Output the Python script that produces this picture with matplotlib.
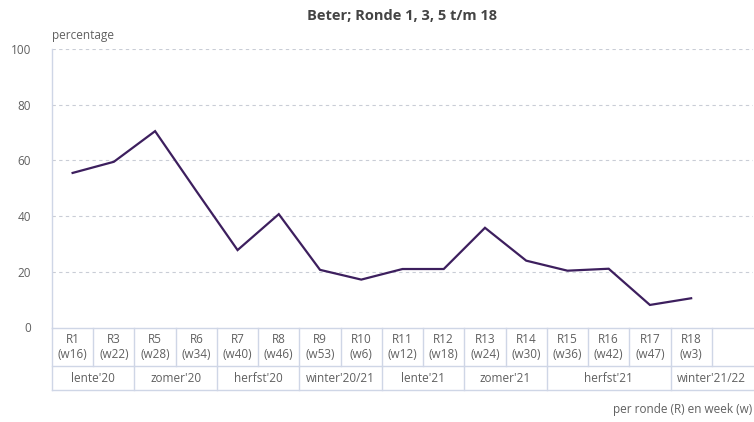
import numpy as np
import matplotlib.pyplot as plt
import matplotlib.transforms as mtransforms

# data
rondes = ["R1", "R3", "R5", "R6", "R7", "R8", "R9", "R10", "R11",
          "R12", "R13", "R14", "R15", "R16", "R17", "R18"]
weken = ["(w16)", "(w22)", "(w28)", "(w34)", "(w40)", "(w46)", "(w53)", "(w6)",
         "(w12)", "(w18)", "(w24)", "(w30)", "(w36)", "(w42)", "(w47)", "(w3)"]
beter = [55.5, 59.5, 70.5, 49, 27.8, 40.7, 20.7, 17.2, 21.0,
         21.0, 35.8, 24.0, 20.4, 21.1, 8.1, 10.5]
seizoenen = ["lente'20", "zomer'20", "herfst'20", "winter'20/21",
             "lente'21", "zomer'21", "herfst'21", "winter'21/22"]
seizoen_kolommen = [2, 2, 2, 2, 2, 2, 3, 2]   # number of columns per season
n_kolommen = 17                              # 16 rounds + one empty column

plt.rcParams['font.family'] = ['Open Sans', 'DejaVu Sans']

txt = '#606060'
lijn = '#cfd6e6'

fig = plt.figure(figsize=(7.54, 4.22), dpi=100)
ax = fig.add_axes([52 / 754, 94.5 / 422, 701 / 754, 278.5 / 422])

x = np.arange(len(beter))
ax.plot(x, beter, color='#3d1f5e', linewidth=1.6, solid_joinstyle='miter')

ax.set_xlim(-0.5, n_kolommen - 0.5)
ax.set_ylim(0, 100)
ax.set_yticks([0, 20, 40, 60, 80, 100])
ax.set_xticks([])
ax.tick_params(axis='y', length=0, pad=15, labelsize=8.5, labelcolor=txt)
for y in [20, 40, 60, 80, 100]:
    ax.axhline(y, color='#c9cdd6', linewidth=0.8, linestyle=(0, (3, 3)), zorder=0)

for s in ['top', 'right', 'bottom']:
    ax.spines[s].set_visible(False)
ax.spines['left'].set_color(lijn)
ax.spines['left'].set_linewidth(1.0)

# table below the chart: x in data, y in axes fraction
tr = mtransforms.blended_transform_factory(ax.transData, ax.transAxes)
r1 = -38.5 / 278.5
r2 = -62.5 / 278.5
left, right = -0.5, n_kolommen - 0.5
kw = dict(transform=tr, clip_on=False, color=lijn, linewidth=1.0)
ax.plot([left, right], [0, 0], **kw)
ax.plot([left, right], [r1, r1], **kw)
ax.plot([left, right], [r2, r2], **kw)
ax.plot([left, left], [0, r2], **kw)
for i in range(1, n_kolommen):
    ax.plot([i - 0.5, i - 0.5], [0, r1], **kw)

for i in range(len(rondes)):
    ax.text(i, r1 / 2, rondes[i] + "\n" + weken[i], transform=tr, ha='center',
            va='center', fontsize=8.5, color=txt, linespacing=1.15)

start = 0
for naam, n in zip(seizoenen, seizoen_kolommen):
    ax.text(start + n / 2 - 0.5, (r1 + r2) / 2, naam, transform=tr, ha='center',
            va='center', fontsize=8.5, color=txt)
    start += n
    if start < n_kolommen:
        ax.plot([start - 0.5, start - 0.5], [r1, r2], **kw)

fig.text(402 / 754, 1 - 16 / 422, "Beter; Ronde 1, 3, 5 t/m 18", ha='center',
         va='center', fontsize=10.5, fontweight='bold', color='#444444')
fig.text(52 / 754, 1 - 36 / 422, "percentage", ha='left', va='center',
         fontsize=8.5, color=txt)
fig.text(752 / 754, 1 - 410 / 422, "per ronde (R) en week (w)", ha='right',
         va='center', fontsize=8.5, color=txt)

fig.savefig("out.png", dpi=100)
